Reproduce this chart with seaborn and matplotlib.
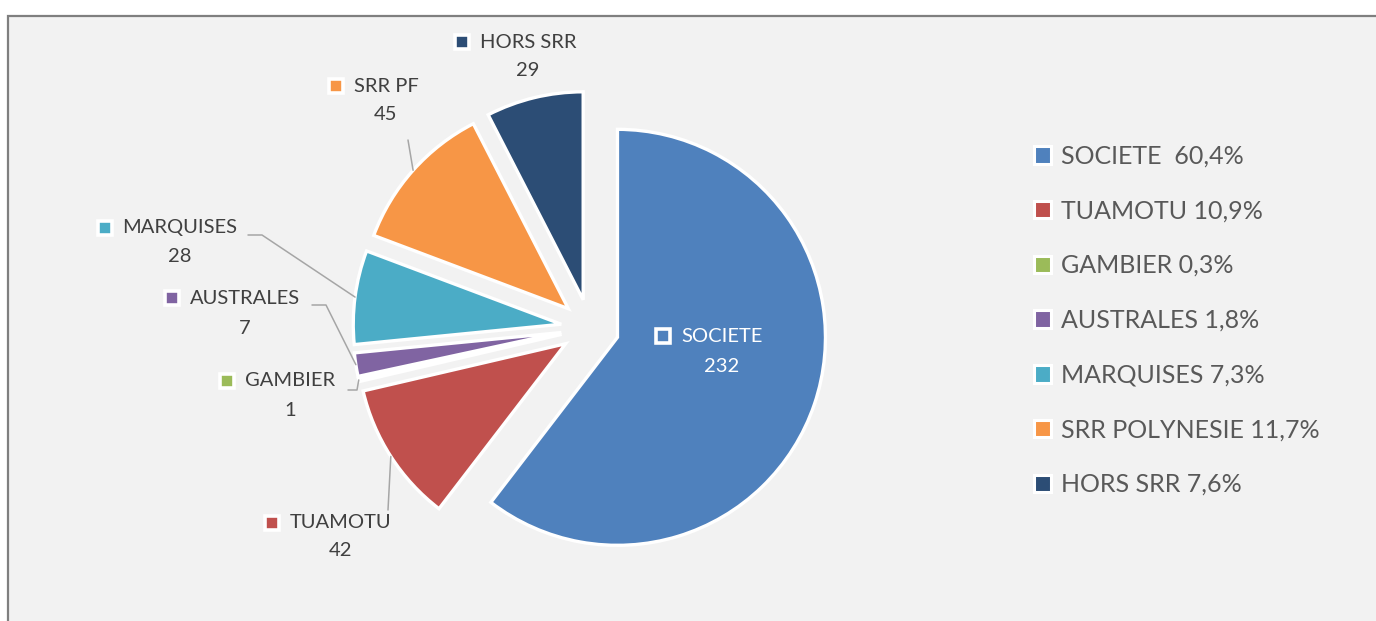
import math
import matplotlib
matplotlib.use("Agg")
import matplotlib.pyplot as plt
from matplotlib.patches import Rectangle, Patch
import seaborn as sns

# données
regions = ["SOCIETE", "TUAMOTU", "GAMBIER", "AUSTRALES", "MARQUISES", "SRR PF", "HORS SRR"]
legend_names = ["SOCIETE ", "TUAMOTU", "GAMBIER", "AUSTRALES", "MARQUISES", "SRR POLYNESIE", "HORS SRR"]
counts = [232, 42, 1, 7, 28, 45, 29]
colors = ["#4F81BD", "#C0504D", "#9BBB59", "#8064A2", "#4BACC6", "#F79646", "#2C4D75"]

W, H = 1376, 621

# position des étiquettes (pixels image) : centre x, y du nom, y de la valeur
label_pos = {
    "SOCIETE": (722, 336, 366),
    "TUAMOTU": (341, 523, 551),
    "GAMBIER": (290, 381, 411),
    "AUSTRALES": (245, 298, 328),
    "MARQUISES": (180, 228, 257),
    "SRR PF": (386, 86, 115),
    "HORS SRR": (528, 42, 71),
}
# points de départ des lignes de repère (côté étiquette)
leaders = {
    "SRR PF": [(408, 140)],
    "MARQUISES": [(248, 235), (262, 235)],
    "AUSTRALES": [(312, 305), (326, 305)],
    "GAMBIER": [(348, 390), (357, 390)],
    "TUAMOTU": [(388, 510)],
}

sns.set_theme(style="white")
plt.rcParams["font.family"] = ["Lato", "DejaVu Sans"]
palette = sns.color_palette(colors)

fig = plt.figure(figsize=(W / 100, H / 100), dpi=100, facecolor="white")
ax = fig.add_axes([0, 0, 1, 1])

# cadre gris clair
ax.add_patch(Rectangle((8, -20), W + 40, H - 16 + 20, facecolor="#f2f2f2",
                       edgecolor="#7f7f7f", linewidth=1.6, zorder=0))

wedges, _ = ax.pie(counts, colors=palette, startangle=90, counterclock=False,
                   explode=[29] * len(counts), radius=208, center=(590, H - 328),
                   wedgeprops=dict(edgecolor="white", linewidth=2.4))
ax.set_xlim(0, W)
ax.set_ylim(0, H)
ax.set_aspect("auto")
ax.axis("off")

name_texts = {}
for reg, val in zip(regions, counts):
    cx, yn, yv = label_pos[reg]
    col = "white" if reg == "SOCIETE" else "#404040"
    name_texts[reg] = ax.text(cx, H - yn, reg, ha="center", va="center",
                              fontsize=14.5, color=col)
    ax.text(cx, H - yv, str(val), ha="center", va="center", fontsize=14.5, color=col)

fig.canvas.draw()
inv = ax.transData.inverted()
for reg, c in zip(regions, palette):
    bb = name_texts[reg].get_window_extent()
    x0, _ = inv.transform((bb.x0, bb.y0))
    cx, yn, yv = label_pos[reg]
    ax.plot([x0 - 18], [H - yn], marker="s", ms=10, mfc=c, mec="white", mew=2.6,
            zorder=5)

# lignes de repère vers le milieu de l'arc
for w, reg in zip(wedges, regions):
    if reg not in leaders:
        continue
    mid = math.radians((w.theta1 + w.theta2) / 2)
    ex = w.center[0] + w.r * math.cos(mid)
    ey = w.center[1] + w.r * math.sin(mid)
    pts = leaders[reg]
    xs = [p[0] for p in pts] + [ex]
    ys = [H - p[1] for p in pts] + [ey]
    ax.plot(xs, ys, color="#a6a6a6", lw=1.1, zorder=1)

total = sum(counts)
leg_labels = [f"{n} {100 * v / total:.1f}%".replace(".", ",") for n, v in zip(legend_names, counts)]
handles = [Patch(facecolor=c, edgecolor="white", linewidth=2.2) for c in palette]
ax.legend(handles, leg_labels, loc="upper left", bbox_to_anchor=(1011 / W, 1 - 122 / H),
          frameon=False, fontsize=18, labelcolor="#595959", handlelength=0.7,
          handleheight=0.7, handletextpad=0.4, labelspacing=1.27)

fig.savefig("out.png", dpi=100, facecolor="white")
